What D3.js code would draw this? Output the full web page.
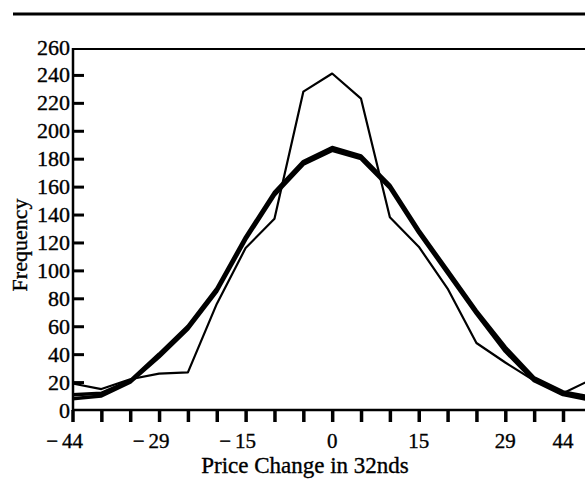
<!DOCTYPE html>
<html>
<head>
<meta charset="utf-8">
<script src="https://cdn.jsdelivr.net/npm/d3@7"></script>
<style>
    body { margin: 0; background: #fff; }
    svg { display: block; }
    text { font-family: "Liberation Serif", "Times New Roman", serif; fill: #000; stroke: #000; stroke-width: 0.35; }
</style>
</head>
<body>
<svg id="chart" width="585" height="493"></svg>
<script>
/*
 Data (bin index along the x axis, frequency on y)
 */
var binIndex = d3.range(19);
var observed = [19, 15, 22, 26, 27, 76, 116, 137, 228, 241, 223, 138, 117, 87, 48, 34, 21, 12, 22];
var fitA = [11, 12, 21, 40, 60, 87, 124, 156, 178, 188, 182, 161, 129, 100, 71, 45, 23, 13, 9];
var fitB = [8, 10, 20, 38, 58, 85, 122, 154, 176, 186, 180, 159, 127, 98, 69, 42, 21, 11, 7];
var yTicks = [0, 20, 40, 60, 80, 100, 120, 140, 160, 180, 200, 220, 240, 260];
var xTickIndex = d3.range(18);
var xLabelIndex = [0, 3, 6, 9, 12, 15, 17];
var xLabels = ['44', '29', '15', '0', '15', '29', '44'];
var xLabelNeg = [true, true, true, false, false, false, false];

var W = 585, H = 493;
var LEFT = 73, RIGHT = W, TOP = 49, BOTTOM = 410;

var svg = d3.select('#chart');

var x = d3.scaleLinear().domain([0, 17]).range([72.5, 563]);
var y = d3.scaleLinear().domain([0, 260]).range([BOTTOM, 47]);

/*
 Top rule and frame
 */
svg.append('line')
    .attr('x1', 13).attr('x2', W)
    .attr('y1', 14).attr('y2', 14)
    .attr('stroke', '#000')
    .attr('stroke-width', 3);

svg.append('line')
    .attr('x1', LEFT).attr('x2', RIGHT)
    .attr('y1', TOP).attr('y2', TOP)
    .attr('stroke', '#000')
    .attr('stroke-width', 2);

/*
 Axes
 */
var yAxis = d3.axisRight(y)
    .tickValues(yTicks.slice(1, -1))
    .tickSize(11)
    .tickFormat('');

svg.append('g')
    .attr('transform', 'translate(' + LEFT + ',0)')
    .call(yAxis)
    .call(function (g) {
        g.select('.domain').remove();
        g.selectAll('line').attr('stroke-width', 3);
    });

svg.append('line')
    .attr('x1', LEFT).attr('x2', LEFT)
    .attr('y1', TOP - 1).attr('y2', BOTTOM + 1)
    .attr('stroke', '#000')
    .attr('stroke-width', 2.5);

svg.selectAll('.yLabel')
    .data(yTicks)
    .enter().append('text')
    .classed('yLabel', true)
    .attr('x', 70)
    .attr('y', function (d) {
        return y(d) + 7.5;
    })
    .attr('text-anchor', 'end')
    .attr('font-size', 22)
    .text(function (d) {
        return d;
    });

var xAxis = d3.axisBottom(x)
    .tickValues(xTickIndex)
    .tickSize(12)
    .tickFormat('');

svg.append('g')
    .attr('transform', 'translate(0,' + BOTTOM + ')')
    .call(xAxis)
    .call(function (g) {
        g.select('.domain').remove();
        g.selectAll('line').attr('stroke-width', 3.5);
    });

svg.append('line')
    .attr('x1', LEFT - 1).attr('x2', RIGHT)
    .attr('y1', BOTTOM).attr('y2', BOTTOM)
    .attr('stroke', '#000')
    .attr('stroke-width', 2.5);

var xLab = svg.selectAll('.xLabel')
    .data(xLabelIndex)
    .enter().append('g')
    .classed('xLabel', true);

xLab.append('text')
    .attr('x', function (d) {
        return x(d);
    })
    .attr('y', 448)
    .attr('text-anchor', 'middle')
    .attr('font-size', 21)
    .text(function (d, i) {
        return xLabels[i];
    })
    .each(function (d, i) {
        if (!xLabelNeg[i]) return;
        var w = this.getComputedTextLength();
        d3.select(this.parentNode).append('text')
            .attr('x', x(d) - w / 2 - 4)
            .attr('y', 448)
            .attr('text-anchor', 'end')
            .attr('font-size', 21)
            .text('\u2212');
    });

svg.append('text')
    .attr('x', 305)
    .attr('y', 473)
    .attr('text-anchor', 'middle')
    .attr('font-size', 23)
    .text('Price Change in 32nds');

svg.append('text')
    .attr('transform', 'translate(27,245) rotate(-90)')
    .attr('text-anchor', 'middle')
    .attr('font-size', 22)
    .text('Frequency');

/*
 Lines
 */
function makeLineSVG(values, width) {
    var line = d3.line()
        .x(function (d) {
            return x(d);
        })
        .y(function (d) {
            return y(values[d]);
        });

    return svg.append('path')
        .datum(binIndex)
        .attr('d', line)
        .attr('fill', 'none')
        .attr('stroke', '#000')
        .attr('stroke-width', width)
        .attr('stroke-linejoin', 'round');
}

makeLineSVG(fitA, 3.5);
makeLineSVG(fitB, 3.5);
makeLineSVG(observed, 2.2);
</script>
</body>
</html>
